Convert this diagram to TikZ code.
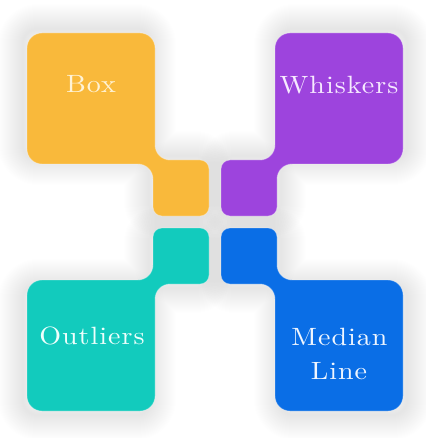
\documentclass[tikz,border=0pt]{standalone}
\usepackage{fontspec}
\newfontfamily\lblfont{lmroman10-regular.otf}[FakeStretch=1.12, LetterSpace=4]
\definecolor{cyellow}{RGB}{249,185,59}
\definecolor{cpurple}{RGB}{157,68,221}
\definecolor{cteal}{RGB}{18,203,189}
\definecolor{cblue}{RGB}{10,110,230}
\definecolor{tyellow}{RGB}{255,243,214}
\definecolor{tpurple}{RGB}{246,234,255}
\definecolor{tteal}{RGB}{238,255,252}
\definecolor{tblue}{RGB}{240,246,255}
\newcommand\petal[2]{%
  \begin{scope}[#1]
    \path[#2] (42,33) -- (140,33) .. controls (148.3,33) and (155,39.7) .. (155,48)
      -- (155,145) .. controls (155,153.3) and (161.7,160) .. (170,160)
      -- (200,160) .. controls (205,160) and (209,164) .. (209,169)
      -- (209,207) .. controls (209,212) and (205,216) .. (200,216)
      -- (162,216) .. controls (157,216) and (153,212) .. (153,207)
      -- (153,179) .. controls (153,170.7) and (146.3,164) .. (138,164)
      -- (42,164) .. controls (33.7,164) and (27,157.3) .. (27,149)
      -- (27,48) .. controls (27,39.7) and (33.7,33) .. (42,33) -- cycle;
  \end{scope}}
\newcommand\petalshadow[1]{%
  \foreach \w in {2,4,...,50} {%
    \petal{#1}{draw=black, draw opacity=0.0042, line width=\w pt, line join=round, shift={(-4,-4)}}}}
\tikzset{
  shape/.style={fill=#1, draw=white, draw opacity=0.3, line width=0.9pt},
  lbl/.style={inner sep=0pt, anchor=base, font=\lblfont\fontsize{25}{30}\selectfont},
  TL/.style={}, TR/.style={xshift=430pt, xscale=-1},
  BL/.style={yshift=-444pt, yscale=-1}, BR/.style={xshift=430pt, xscale=-1, yshift=-444pt, yscale=-1}
}
\begin{document}
\begin{tikzpicture}[x=1pt, y=-1pt]
  \fill[white] (0,0) rectangle (425,438);
  \useasboundingbox (0,0) rectangle (425,438);
  % shadows
  \petalshadow{TL}
  \petalshadow{TR}
  \petalshadow{BL}
  \petalshadow{BR}
  % shapes
  \petal{TL}{shape=cyellow}
  \petal{TR}{shape=cpurple}
  \petal{BL}{shape=cteal}
  \petal{BR}{shape=cblue}
  % labels
  \node[lbl, text=tyellow] (box) at (91,93) {Box};
  \node[lbl, text=tpurple] (whiskers) at (339,94) {Whiskers};
  \node[lbl, text=tteal] (outliers) at (92,344) {Outliers};
  \node[lbl, text=tblue] (median) at (339.5,345) {Median};
  \node[lbl, text=tblue] (line) at (339,379) {Line};
\end{tikzpicture}
\end{document}
